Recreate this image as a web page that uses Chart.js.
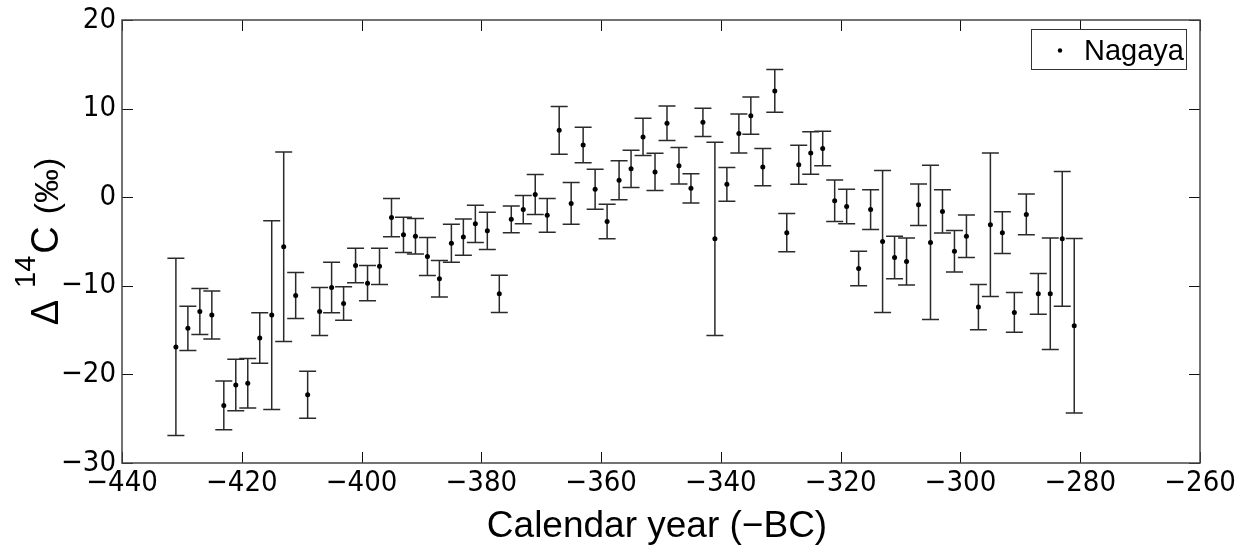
<!DOCTYPE html>
<html>
<head>
<meta charset="utf-8">
<script src="https://cdn.jsdelivr.net/npm/chart.js@4.4.1/dist/chart.umd.min.js"></script>
<style>
  body { margin: 0; background: #fff; }
  #wrap { width: 1235px; height: 549px; }
</style>
</head>
<body>
<div id="wrap"><canvas id="c" width="1235" height="549"></canvas></div>
<script>
// calendar years (negative = BC)
const years = [
  -431, -429, -427, -425, -423, -421, -419, -417, -415, -413,
  -411, -409, -407, -405, -403, -401, -399, -397, -395, -393,
  -391, -389, -387, -385, -383, -381, -379, -377, -375, -373,
  -371, -369, -367, -365, -363, -361, -359, -357, -355, -353,
  -351, -349, -347, -345, -343, -341, -339, -337, -335, -333,
  -331, -329, -327, -325, -323, -321, -319, -317, -315, -313,
  -311, -309, -307, -305, -303, -301, -299, -297, -295, -293,
  -291, -289, -287, -285, -283, -281
];

// Delta 14C (permil)
const d14c = [
  -16.9, -14.8, -12.9, -13.3, -23.5, -21.2, -21.0, -15.9, -13.3, -5.6,
  -11.1, -22.3, -12.9, -10.2, -12.0, -7.7, -9.7, -7.8, -2.3, -4.25,
  -4.4, -6.7, -9.2, -5.2, -4.5, -3.0, -3.8, -10.9, -2.5, -1.4,
  0.3, -2.05, 7.55, -0.7, 5.9, 0.9, -2.75, 1.9, 3.2, 6.8,
  2.85, 8.35, 3.55, 1.0, 8.45, -4.7, 1.45, 7.2, 9.2, 3.4,
  12.0, -4.0, 3.65, 5.0, 5.5, -0.4, -1.05, -8.05, -1.4, -5.0,
  -6.8, -7.25, -0.85, -5.1, -1.6, -6.1, -4.4, -12.4, -3.1, -4.0,
  -13.0, -1.95, -10.9, -10.9, -4.7, -14.5
];

// 1-sigma errors
const errs = [
  10.0, 2.5, 2.6, 2.7, 2.75, 2.9, 2.8, 2.85, 10.65, 10.7,
  2.6, 2.65, 2.7, 2.85, 1.9, 1.95, 2.0, 2.05, 2.15, 2.0,
  2.0, 2.15, 2.05, 2.15, 2.05, 2.1, 2.1, 2.1, 1.5, 1.6,
  2.25, 1.9, 2.7, 2.35, 2.0, 2.25, 1.95, 2.2, 2.1, 2.1,
  2.1, 1.95, 2.05, 1.65, 1.6, 10.9, 1.9, 2.2, 2.1, 2.1,
  2.4, 2.15, 2.2, 2.4, 1.95, 2.35, 1.95, 1.95, 2.25, 8.0,
  2.4, 2.65, 2.35, 8.7, 2.45, 2.35, 2.4, 2.55, 8.1, 2.35,
  2.25, 2.3, 2.3, 6.3, 7.6, 9.85
];

const seriesName = 'Nagaya';
const xTitle = 'Calendar year (\u2212BC)';

const tickFont = { family: "'Liberation Sans Narrow', 'DejaVu Sans Condensed', sans-serif", size: 29 };
const minus = v => String(v).replace('-', '\u2212');

// error bars, inner ticks, box frame, legend and axis titles
const matlabLook = {
  id: 'matlabLook',
  beforeDatasetsDraw(chart) {
    const ctx = chart.ctx, xs = chart.scales.x, ys = chart.scales.y;
    ctx.save();
    ctx.strokeStyle = '#2a2a2a';
    ctx.lineWidth = 1.5;
    for (let i = 0; i < years.length; i++) {
      const px = xs.getPixelForValue(years[i]);
      const top = ys.getPixelForValue(d14c[i] + errs[i]);
      const bot = ys.getPixelForValue(d14c[i] - errs[i]);
      ctx.beginPath();
      ctx.moveTo(px, top); ctx.lineTo(px, bot);
      ctx.moveTo(px - 8.5, top); ctx.lineTo(px + 8.5, top);
      ctx.moveTo(px - 8.5, bot); ctx.lineTo(px + 8.5, bot);
      ctx.stroke();
    }
    ctx.restore();
  },
  afterDraw(chart) {
    const ctx = chart.ctx, a = chart.chartArea, xs = chart.scales.x, ys = chart.scales.y;
    ctx.save();
    // ticks pointing in, on all four sides
    ctx.strokeStyle = '#111';
    ctx.lineWidth = 1;
    ctx.beginPath();
    xs.ticks.forEach(t => {
      const p = Math.round(xs.getPixelForValue(t.value)) + 0.5;
      ctx.moveTo(p, a.bottom); ctx.lineTo(p, a.bottom - 11);
      ctx.moveTo(p, a.top); ctx.lineTo(p, a.top + 11);
    });
    ys.ticks.forEach(t => {
      const p = Math.round(ys.getPixelForValue(t.value)) + 0.5;
      ctx.moveTo(a.left, p); ctx.lineTo(a.left + 11, p);
      ctx.moveTo(a.right, p); ctx.lineTo(a.right - 11, p);
    });
    ctx.stroke();
    // box
    ctx.strokeStyle = '#444';
    ctx.lineWidth = 1.5;
    ctx.strokeRect(a.left, a.top, a.right - a.left, a.bottom - a.top);

    // legend
    const lx = a.right - 169, ly = a.top + 9;
    ctx.fillStyle = '#fff';
    ctx.fillRect(lx, ly, 155, 40);
    ctx.strokeStyle = '#333';
    ctx.lineWidth = 1;
    ctx.strokeRect(lx + 0.5, ly + 0.5, 155, 40);
    ctx.fillStyle = '#000';
    ctx.beginPath();
    ctx.arc(lx + 29, ly + 21.5, 2.2, 0, Math.PI * 2);
    ctx.fill();
    ctx.font = "29px 'Liberation Sans', Arial, sans-serif";
    ctx.textBaseline = 'alphabetic';
    ctx.textAlign = 'left';
    ctx.fillText(seriesName, lx + 53, ly + 31);

    // x title
    ctx.font = "37px 'Liberation Sans', Arial, sans-serif";
    ctx.textAlign = 'center';
    ctx.fillText(xTitle, (a.left + a.right) / 2 - 4, 537);

    // y title: Δ ¹⁴C (‰), rotated
    const parts = [
      { t: '\u0394', f: "38px 'Liberation Sans', Arial, sans-serif", raise: 0, gap: 12 },
      { t: '14', f: "29px 'Liberation Sans Narrow', 'Liberation Sans', sans-serif", raise: 23, gap: 2 },
      { t: 'C', f: "38px 'Liberation Sans', Arial, sans-serif", raise: 0, gap: 12 },
      { t: '(\u2030)', f: "34px 'Liberation Sans', Arial, sans-serif", raise: 0, gap: 0 }
    ];
    ctx.textAlign = 'left';
    let total = 0;
    parts.forEach(p => { ctx.font = p.f; p.w = ctx.measureText(p.t).width; total += p.w + p.gap; });
    ctx.translate(58, (a.top + a.bottom) / 2);
    ctx.rotate(-Math.PI / 2);
    let cx = -total / 2;
    parts.forEach(p => {
      ctx.font = p.f;
      ctx.fillText(p.t, cx, -p.raise);
      cx += p.w + p.gap;
    });
    ctx.restore();
  }
};

new Chart(document.getElementById('c'), {
  type: 'scatter',
  data: {
    datasets: [{
      label: seriesName,
      data: years.map((yr, i) => ({ x: yr, y: d14c[i] })),
      pointRadius: 2.5,
      pointBackgroundColor: '#000',
      pointBorderWidth: 0,
      showLine: false
    }]
  },
  options: {
    responsive: false,
    animation: false,
    layout: { padding: { top: 20, right: 35, left: 0, bottom: 0 } },
    plugins: { legend: { display: false }, tooltip: { enabled: false } },
    scales: {
      x: {
        type: 'linear',
        min: -440, max: -260,
        afterFit: s => { s.height = 86; s.paddingLeft = 0; s.paddingRight = 0; },
        grid: { display: false, drawTicks: false },
        border: { display: false },
        ticks: { stepSize: 20, padding: 3, color: '#000', font: tickFont, maxRotation: 0, autoSkip: false, callback: minus }
      },
      y: {
        min: -30, max: 20,
        afterFit: s => { s.width = 122; s.paddingTop = 0; s.paddingBottom = 0; },
        grid: { display: false, drawTicks: false },
        border: { display: false },
        ticks: { stepSize: 10, padding: 6, color: '#000', font: tickFont, callback: minus }
      }
    }
  },
  plugins: [matlabLook]
});
</script>
</body>
</html>
